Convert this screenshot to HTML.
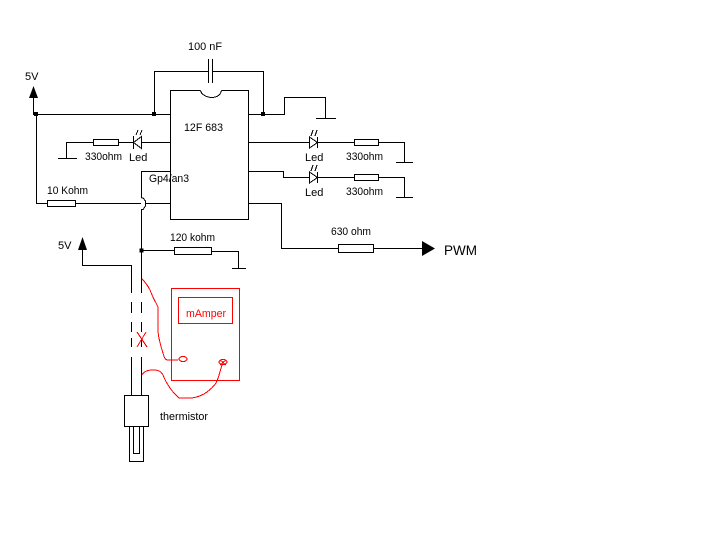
<!DOCTYPE html>
<html><head><meta charset="utf-8"><style>
html,body{margin:0;padding:0;background:#fff}
svg{display:block}
text{font-family:"Liberation Sans",sans-serif;font-size:11px;fill:#000}
</style></head><body>
<svg width="728" height="555" viewBox="0 0 728 555" xmlns="http://www.w3.org/2000/svg">
<rect width="728" height="555" fill="#fff"/>
<g fill="none" stroke="#000" stroke-width="1" shape-rendering="crispEdges">
<!-- IC -->
<path d="M200.500 90.500H170.500V219.500H248.500V90.500H221.500"/>
<!-- 5V rail -->
<path d="M33.500 98V114.500H170M36.500 114V203.500H47.500M75.500 203.500H141M146 203.500H170"/>
<rect x="47.500" y="200.500" width="28" height="6"/>
<!-- capacitor -->
<path d="M154.500 114V71.500H208M212 71.500H263.500V114M248 114.500H284.500V97.500H325.500V118M316 118.500H336"/>
<path d="M208.500 59V83M212.500 59V83"/>
<!-- left LED -->
<path d="M170 142.500H141.500M133.500 142.500H118.500M93.500 142.500H66.500V158.500M58 158.500H77"/>
<rect x="93.500" y="139.500" width="25" height="6"/>
<path d="M133.500 136V149"/>
<!-- right LED 1 -->
<path d="M248 142.500H309.500M317.500 142.500H354.500M379 142.500H404.500V162.500M396 162.500H413"/>
<rect x="354.500" y="139.500" width="24" height="6"/>
<path d="M317.500 137V148"/>
<!-- right LED 2 -->
<path d="M248 171.500H283.500V177.500H309.500M317.500 177.500H354.500M379 177.500H404.500V197.500M396 197.500H413"/>
<rect x="354.500" y="174.500" width="24" height="6"/>
<path d="M317.500 172V183"/>
<!-- PWM -->
<path d="M248 203.500H281.500V248.500H338.500M374 248.500H422"/>
<rect x="338.500" y="244.500" width="35" height="8"/>
<!-- sense line -->
<path d="M170 171.500H141.500V198M141.500 209V293M141.500 302V313M141.500 322V332M141.500 338V347M141.500 357V395"/>
<!-- 5V lower -->
<path d="M82.500 249V265.500H131.500V293M131.500 302V313M131.500 322V332M131.500 338V347M131.500 357V395"/>
<!-- 120k -->
<path d="M141.500 250.500H174.500M211 251.500H238.500V268M232 268.500H246"/>
<rect x="174.500" y="247.500" width="37" height="7"/>
<!-- thermistor -->
<rect x="124.500" y="395.500" width="24" height="31"/>
<path d="M129.500 427V461.500H143.500V427M133.500 427V453.500H139.500V427"/>
</g>
<!-- hop -->
<path d="M141.500 198H143L145.500 201V206L143 209.500H141.500" fill="none" stroke="#000" shape-rendering="crispEdges"/>
<!-- notch -->
<path d="M200.500 90.500C202 98 219 101.500 221.500 90.500" fill="none" stroke="#000" shape-rendering="crispEdges"/>
<!-- LEDs -->
<g fill="none" stroke="#000" shape-rendering="crispEdges">
<path d="M141.500 136.500V148.500L133.500 142.500Z"/>
<path d="M309.500 137V148L317.500 142.500Z"/>
<path d="M309.500 172V183L317.500 177.500Z"/>
<path d="M136 135L138 130M140 135L142 130M311 136L313 130M315 136L317 130M311 171L313 165M315 171L317 165"/>
</g>
<!-- dots & arrows -->
<g fill="#000">
<rect x="34" y="112" width="4" height="4"/>
<rect x="152" y="112" width="4" height="4"/>
<rect x="261" y="112" width="4" height="4"/>
<rect x="139.500" y="248.500" width="4" height="4"/>
<path d="M33.500 86L38 98H29Z"/>
<path d="M82.500 237L87 250H78Z"/>
<path d="M422 241L435 248.500L422 256Z"/>
</g>
<!-- red -->
<g fill="none" stroke="#f00" stroke-width="1" shape-rendering="crispEdges">
<rect x="171.500" y="288.500" width="68" height="92"/>
<rect x="178.500" y="297.500" width="54" height="26"/>
<path d="M142 279C146 283 149 288 150 290C152 295 154 300 156 303C157 305 158 306 158 308V332C159 340 161 347 163 353C164 357 165 360 168 360H178"/>
<ellipse cx="183" cy="359" rx="4" ry="2.500"/>
<path d="M142 375C144 371 149 370 153 370C158 370 161 371 163 375C166 383 172 392 179 398C183 398 188 398 192 398C198 397 203 395 207 392C211 389 214 386 216 383C219 377 220 371 222 365"/>
<ellipse cx="223" cy="362" rx="4" ry="2.500"/>
<path d="M220 360L226 365M226 360L220 365"/>
<path d="M137 332L147 347M146 332L137 347"/>
</g>
<!-- labels -->
<text x="188" y="50" textLength="34" lengthAdjust="spacingAndGlyphs">100 nF</text>
<text x="25" y="80">5V</text>
<text x="184" y="131" textLength="39" lengthAdjust="spacingAndGlyphs">12F 683</text>
<text x="85" y="160" textLength="37" lengthAdjust="spacingAndGlyphs">330ohm</text>
<text x="129" y="161">Led</text>
<text x="149" y="182" textLength="40" lengthAdjust="spacingAndGlyphs">Gp4/an3</text>
<text x="47" y="194" textLength="41" lengthAdjust="spacingAndGlyphs">10 Kohm</text>
<text x="305" y="161">Led</text>
<text x="346" y="160" textLength="37" lengthAdjust="spacingAndGlyphs">330ohm</text>
<text x="305" y="196">Led</text>
<text x="346" y="195" textLength="37" lengthAdjust="spacingAndGlyphs">330ohm</text>
<text x="331" y="235" textLength="40" lengthAdjust="spacingAndGlyphs">630 ohm</text>
<text x="444" y="255" style="font-size:14px" textLength="33" lengthAdjust="spacingAndGlyphs">PWM</text>
<text x="58" y="249">5V</text>
<text x="170" y="241" textLength="45" lengthAdjust="spacingAndGlyphs">120 kohm</text>
<text x="186" y="317" style="fill:#f00" textLength="40" lengthAdjust="spacingAndGlyphs">mAmper</text>
<text x="160" y="420" textLength="48" lengthAdjust="spacingAndGlyphs">thermistor</text>
</svg>
</body></html>
